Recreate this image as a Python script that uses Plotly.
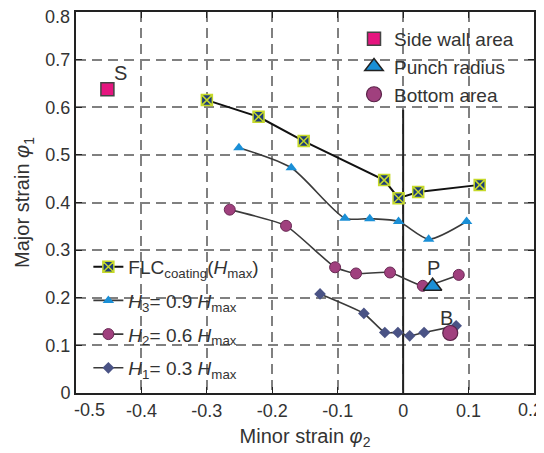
import plotly.graph_objects as go

# ---- data ----
flc_x = [-0.300, -0.221, -0.152, -0.029, -0.007, 0.023, 0.117]
flc_y = [0.615, 0.580, 0.529, 0.447, 0.409, 0.422, 0.437]

h3_x = [-0.251, -0.171, -0.089, -0.051, -0.007, 0.039, 0.097]
h3_y = [0.515, 0.473, 0.367, 0.366, 0.360, 0.323, 0.360]

h2_x = [-0.265, -0.179, -0.104, -0.072, -0.020, 0.030, 0.085]
h2_y = [0.385, 0.351, 0.264, 0.251, 0.253, 0.225, 0.248]

h1_x = [-0.127, -0.060, -0.028, -0.008, 0.010, 0.032, 0.081]
h1_y = [0.208, 0.167, 0.127, 0.127, 0.120, 0.127, 0.141]

side_x, side_y = [-0.452], [0.638]
punch_x, punch_y = [0.045], [0.224]
bottom_x, bottom_y = [0.072], [0.126]

labels = ["S", "P", "B"]
label_x = [-0.432, 0.047, 0.066]
label_y = [0.672, 0.262, 0.158]

zero_x = [0, 0]
zero_y = [0, 0.595]

x_ticks = [-0.5, -0.4, -0.3, -0.2, -0.1, 0, 0.1, 0.2]
x_ticktext = ["-0.5", "-0.4", "-0.3", "-0.2", "-0.1", "0", "0.1", "0.2"]
y_ticks = [0, 0.1, 0.2, 0.3, 0.4, 0.5, 0.6, 0.7, 0.8]
y_ticktext = ["0", "0.1", "0.2", "0.3", "0.4", "0.5", "0.6", "0.7", "0.8"]

FONT = "Liberation Sans, Arial, sans-serif"
TXT = "#333333"
BLUE = "#1a8fd6"
PURPLE = "#a0407e"
PINK = "#e5157f"
NAVY = "#1c3c78"
LIME = "#c6d92a"
DIAM = "#4a5385"
LINE = "#3a3a3a"

fig = go.Figure()

fig.add_trace(go.Scatter(x=zero_x, y=zero_y, mode="lines",
                         line=dict(color="#222222", width=2), showlegend=False, hoverinfo="skip"))

fig.add_trace(go.Scatter(
    x=flc_x, y=flc_y, mode="lines+markers", name="FLC<sub>coating</sub>(<i>H</i><sub>max</sub>)",
    line=dict(color="#111111", width=2),
    marker=dict(symbol="square-x", size=11, color=NAVY, line=dict(color=LIME, width=1.5)),
    legend="legend2", legendgroup="a"))
fig.add_trace(go.Scatter(
    x=h3_x, y=h3_y, mode="lines+markers", name="<i>H</i><sub>3</sub>= 0.9 <i>H</i><sub>max</sub>",
    line=dict(color=LINE, width=1.6, shape="spline", smoothing=0.7),
    marker=dict(symbol="triangle-up", size=10, color=BLUE, line=dict(width=0)),
    legend="legend2", legendgroup="b"))
fig.add_trace(go.Scatter(
    x=h2_x, y=h2_y, mode="lines+markers", name="<i>H</i><sub>2</sub>= 0.6 <i>H</i><sub>max</sub>",
    line=dict(color=LINE, width=1.6, shape="spline", smoothing=0.5),
    marker=dict(symbol="circle", size=11, color=PURPLE, line=dict(color="#6a2a55", width=1)),
    legend="legend2", legendgroup="c"))
fig.add_trace(go.Scatter(
    x=h1_x, y=h1_y, mode="lines+markers", name="<i>H</i><sub>1</sub>= 0.3 <i>H</i><sub>max</sub>",
    line=dict(color=LINE, width=1.6, shape="spline", smoothing=0.5),
    marker=dict(symbol="diamond", size=9, color=DIAM, line=dict(width=0)),
    legend="legend2", legendgroup="d"))

fig.add_trace(go.Scatter(
    x=side_x, y=side_y, mode="markers", name="Side wall area",
    marker=dict(symbol="square", size=13, color=PINK, line=dict(color="#444444", width=1.5)),
    legend="legend"))
fig.add_trace(go.Scatter(
    x=punch_x, y=punch_y, mode="markers", name="Punch radius",
    marker=dict(symbol="triangle-up", size=16, color=BLUE, line=dict(color="#222222", width=1.5)),
    legend="legend"))
fig.add_trace(go.Scatter(
    x=bottom_x, y=bottom_y, mode="markers", name="Bottom area",
    marker=dict(symbol="circle", size=15, color=PURPLE, line=dict(color="#5a2248", width=1.2)),
    legend="legend"))

for t, lx, ly in zip(labels, label_x, label_y):
    fig.add_annotation(x=lx, y=ly, text=t, showarrow=False,
                       font=dict(family=FONT, size=20, color=TXT))

# end tick labels are nudged inward, as in the original
tick_font = dict(family=FONT, size=18, color=TXT)
y_ticktext_axis = y_ticktext[:-1] + [""]
fig.add_annotation(x=0, xref="paper", y=y_ticks[-1], yref="y", text=y_ticktext[-1],
                   showarrow=False, xanchor="right", yanchor="middle", xshift=-4, yshift=-5,
                   font=tick_font)
x_ticktext_axis = [""] + x_ticktext[1:-1] + [""]
fig.add_annotation(x=x_ticks[0], xref="x", y=0, yref="paper", text=x_ticktext[0],
                   showarrow=False, xanchor="center", yanchor="middle", xshift=13, yshift=-17,
                   font=tick_font)
fig.add_annotation(x=x_ticks[-1], xref="x", y=0, yref="paper", text=x_ticktext[-1],
                   showarrow=False, xanchor="center", yanchor="middle", xshift=-4, yshift=-17,
                   font=tick_font)

grid = dict(showgrid=True, gridcolor="#808080", gridwidth=1.5, griddash="10px,6px")
fig.update_xaxes(range=[-0.5, 0.2], tickvals=x_ticks, ticktext=x_ticktext_axis,
                 ticks="inside", ticklen=6, tickcolor="#222", mirror="ticks",
                 showline=True, linecolor="#222222", linewidth=2, zeroline=False,
                 automargin=False,
                 tickfont=tick_font,
                 title=dict(text="Minor strain <i>φ</i><sub>2</sub>", standoff=9,
                            font=dict(family=FONT, size=20, color=TXT)), **grid)
fig.update_yaxes(range=[0, 0.8], tickvals=y_ticks, ticktext=y_ticktext_axis,
                 ticks="inside", ticklen=6, tickcolor="#222", mirror="ticks",
                 showline=True, linecolor="#222222", linewidth=2, zeroline=False,
                 automargin=False,
                 tickfont=tick_font,
                 title=dict(text="Major strain <i>φ</i><sub>1</sub>", standoff=10,
                            font=dict(family=FONT, size=20, color=TXT)), **grid)

# the page body adds an 8px margin, so the figure is sized to fit the 544x453 window
fig.update_layout(
    width=536, height=445,
    margin=dict(l=68, r=10, t=4, b=60),
    plot_bgcolor="white", paper_bgcolor="white",
    font=dict(family=FONT, color=TXT),
    legend=dict(x=0.607, y=0.979, xanchor="left", yanchor="top", bgcolor="rgba(255,255,255,0)",
                font=dict(family=FONT, size=19, color=TXT), itemsizing="trace",
                tracegroupgap=0),
    legend2=dict(x=0.027, y=0.381, xanchor="left", yanchor="top", bgcolor="rgba(0,0,0,0)",
                 font=dict(family=FONT, size=19, color=TXT), tracegroupgap=6,
                 itemsizing="trace"),
)

fig.write_html("out.html")
